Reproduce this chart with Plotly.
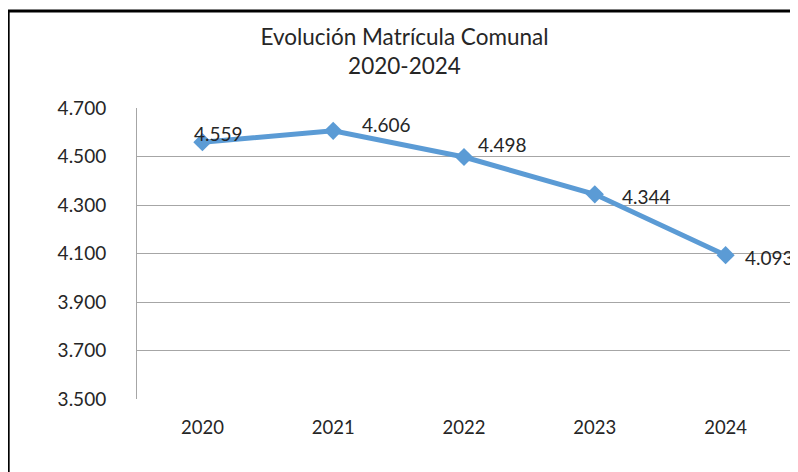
import plotly.graph_objects as go

years = ["2020", "2021", "2022", "2023", "2024"]
matricula = [4559, 4606, 4498, 4344, 4093]
labels = [f"{v:,}".replace(",", ".") for v in matricula]

# label offsets (px) like the excel chart
label_dx = [-10, 27, 12, 25, 17]
label_dy = [9, 6, 12, -2, -2]

fig = go.Figure()

fig.add_scatter(
    x=years,
    y=matricula,
    mode="lines+markers",
    line=dict(color="#5B9BD5", width=5),
    marker=dict(symbol="diamond", size=14, color="#5B9BD5"),
    showlegend=False,
    hoverinfo="skip",
)

# category axis -> place labels by index
for i, (v, t) in enumerate(zip(matricula, labels)):
    fig.add_annotation(
        x=i, y=v, text=t, showarrow=False,
        xanchor="left", yanchor="middle",
        xshift=label_dx[i], yshift=label_dy[i],
        font=dict(size=19, color="#262626"),
    )

# outer frame of the pasted chart
fig.add_shape(
    type="rect", xref="paper", yref="paper",
    x0=-0.197, x1=1.06, y0=-0.3, y1=1.333,
    line=dict(color="black", width=3),
    layer="below",
)

# page has 8px body margin, so figure is 790x464
fig.update_layout(
    title=dict(
        text="Evolución Matrícula Comunal<br>2020-2024",
        x=396.5 / 790, xanchor="center",
        yref="container", y=1 - 37 / 464, yanchor="top",
        font=dict(size=22.5, color="#262626"),
    ),
    font=dict(family="Lato, Carlito, Calibri, sans-serif", size=19, color="#262626"),
    separators=",.",
    width=790,
    height=464,
    margin=dict(l=129, r=7, t=100, b=73),
    plot_bgcolor="white",
    paper_bgcolor="white",
)

fig.update_xaxes(
    type="category",
    range=[-0.5, 4.5],
    showgrid=False,
    showline=False,
    ticks="",
    tickfont=dict(size=18.5),
    ticklabelstandoff=15,
)
fig.update_yaxes(
    range=[3500, 4700],
    tick0=3500,
    dtick=200,
    tickformat=",.0f",
    showgrid=True,
    gridcolor="#A6A6A6",
    gridwidth=1,
    showline=True,
    linecolor="#A6A6A6",
    linewidth=1,
    zeroline=False,
    ticks="",
    ticklabelstandoff=26,
)

fig.write_html("out.html")
